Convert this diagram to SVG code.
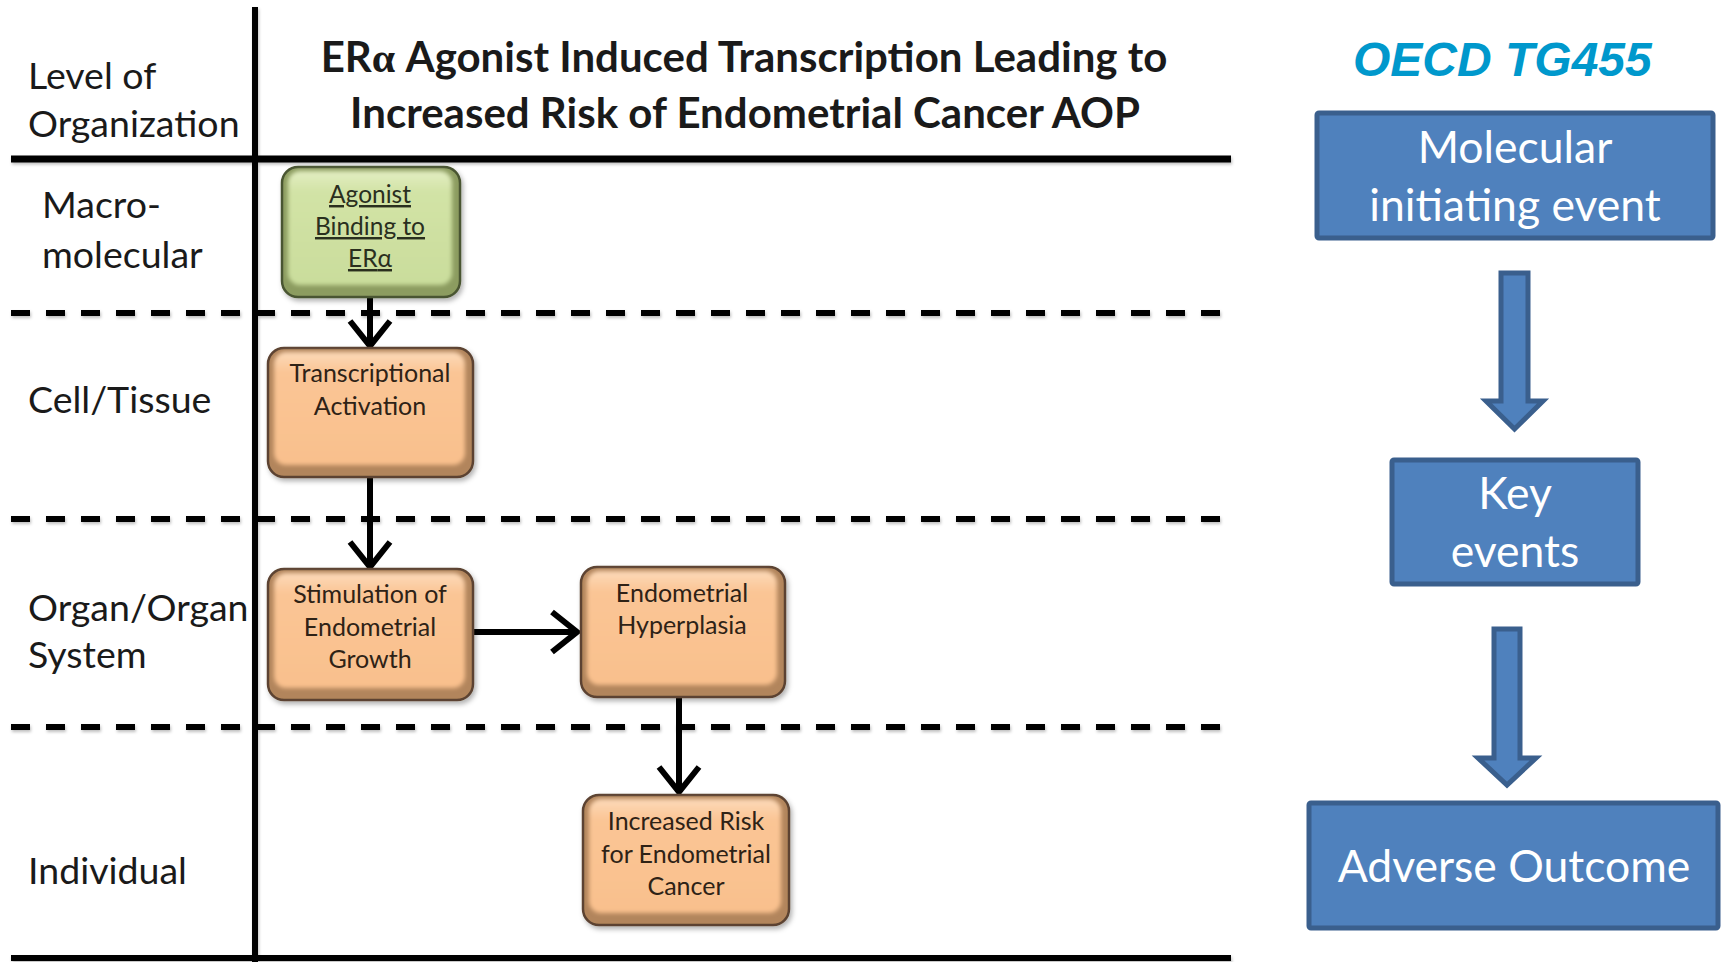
<svg xmlns="http://www.w3.org/2000/svg" width="1721" height="962" viewBox="0 0 1721 962">
<style>
.lab{font-family:Lato,"Open Sans","Liberation Sans",sans-serif;font-size:37.5px;fill:#1a1a1a}
.ttl{font-family:Lato,"Open Sans","Liberation Sans",sans-serif;font-weight:bold;font-size:42px;fill:#1a1a1a;text-anchor:middle}
.nt{font-family:Lato,"Open Sans","Liberation Sans",sans-serif;font-size:25px;fill:#2e2216;text-anchor:middle}
.gt{font-family:Lato,"Open Sans","Liberation Sans",sans-serif;font-size:24.5px;fill:#2a2f1e;text-anchor:middle;text-decoration:underline}
.bt{font-family:Lato,"Open Sans","Liberation Sans",sans-serif;font-size:44.5px;fill:#ffffff;text-anchor:middle}
.oecd{font-family:"Liberation Sans",Arial,sans-serif;font-weight:bold;font-style:italic;font-size:48px;fill:#0098CC}
.solid{stroke:#000;fill:none}
.dash{stroke:#000;stroke-width:6;stroke-dasharray:19 16;fill:none}
.oo{fill:#B2855B;stroke:#5B4330;stroke-width:2.5}
.oi{fill:url(#og)}
.go{fill:#8C9C60;stroke:#4A5530;stroke-width:2.5}
.gi{fill:url(#gg)}
.conn{stroke:#000;stroke-width:6;fill:none;marker-end:url(#chev)}
.bb{fill:#4F81BD;stroke:#3A5F8D;stroke-width:5}
</style>
<defs>
<linearGradient id="og" x1="0" y1="0" x2="0" y2="1">
<stop offset="0" stop-color="#FDDAB9"/><stop offset="0.18" stop-color="#FAC595"/><stop offset="1" stop-color="#F9C08D"/>
</linearGradient>
<linearGradient id="gg" x1="0" y1="0" x2="0" y2="1">
<stop offset="0" stop-color="#E3EEC3"/><stop offset="0.18" stop-color="#D2E3A6"/><stop offset="1" stop-color="#CADD9C"/>
</linearGradient>
<filter id="sh" x="-10%" y="-10%" width="130%" height="130%">
<feDropShadow dx="2" dy="3" stdDeviation="2.5" flood-color="#000" flood-opacity="0.3"/>
</filter>
<filter id="bl" x="-10%" y="-10%" width="120%" height="120%">
<feGaussianBlur stdDeviation="2"/>
</filter>
<filter id="lsh" x="-5%" y="-50%" width="110%" height="200%">
<feDropShadow dx="1" dy="2" stdDeviation="1.5" flood-color="#000" flood-opacity="0.25"/>
</filter>
<marker id="chev" markerUnits="userSpaceOnUse" viewBox="-30 -25 36 50" refX="0" refY="0" markerWidth="36" markerHeight="50" orient="auto">
<path d="M-25,-20 L0,0 L-25,20" fill="none" stroke="#000" stroke-width="6" stroke-linejoin="miter"/>
</marker>
</defs>
<rect width="1721" height="962" fill="#fff"/>

<g id="grid" filter="url(#lsh)">
<line class="solid" x1="255" y1="7" x2="255" y2="962" stroke-width="6"/>
<line class="solid" x1="11" y1="159" x2="1231" y2="159" stroke-width="7"/>
<line class="solid" x1="11" y1="958" x2="1231" y2="958" stroke-width="6"/>
<line class="dash" x1="11" y1="313" x2="1231" y2="313"/>
<line class="dash" x1="11" y1="519" x2="1231" y2="519"/>
<line class="dash" x1="11" y1="727" x2="1231" y2="727"/>
</g>

<g id="labels">
<text class="lab" x="28" y="89">Level of</text>
<text class="lab" x="28" y="137">Organization</text>
<text class="lab" x="42" y="218">Macro-</text>
<text class="lab" x="42" y="268">molecular</text>
<text class="lab" x="28" y="413">Cell/Tissue</text>
<text class="lab" x="28" y="621">Organ/Organ</text>
<text class="lab" x="28" y="668">System</text>
<text class="lab" x="28" y="884">Individual</text>
</g>

<g id="title">
<text class="ttl" x="744" y="72">ER<tspan font-family="'Liberation Serif',serif">α</tspan> Agonist Induced Transcription Leading to</text>
<text class="ttl" x="745" y="128">Increased Risk of Endometrial Cancer AOP</text>
</g>

<g id="connectors">
<line class="conn" x1="370" y1="297" x2="370" y2="346"/>
<line class="conn" x1="370" y1="477" x2="370" y2="567"/>
<line class="conn" x1="473" y1="632" x2="577" y2="632"/>
<line class="conn" x1="679" y1="697" x2="679" y2="792"/>
</g>

<g id="n1">
<rect class="go" x="282" y="167" width="178" height="130" rx="16" filter="url(#sh)"/>
<rect class="gi" x="288" y="171" width="164" height="114" rx="12" filter="url(#bl)"/>
<text class="gt" x="370" y="203">Agonist</text>
<text class="gt" x="370" y="235">Binding to</text>
<text class="gt" x="370" y="267">ER<tspan>α</tspan></text>
</g>

<g id="n2">
<rect class="oo" x="268" y="348" width="205" height="129" rx="16" filter="url(#sh)"/>
<rect class="oi" x="274" y="352" width="191" height="113" rx="12" filter="url(#bl)"/>
<text class="nt" x="370" y="382">Transcriptional</text>
<text class="nt" x="370" y="415">Activation</text>
</g>

<g id="n3">
<rect class="oo" x="268" y="569" width="205" height="131" rx="16" filter="url(#sh)"/>
<rect class="oi" x="274" y="573" width="191" height="115" rx="12" filter="url(#bl)"/>
<text class="nt" x="370" y="603">Stimulation of</text>
<text class="nt" x="370" y="636">Endometrial</text>
<text class="nt" x="370" y="668">Growth</text>
</g>

<g id="n4">
<rect class="oo" x="581" y="567" width="204" height="130" rx="16" filter="url(#sh)"/>
<rect class="oi" x="587" y="571" width="190" height="114" rx="12" filter="url(#bl)"/>
<text class="nt" x="682" y="602">Endometrial</text>
<text class="nt" x="682" y="634">Hyperplasia</text>
</g>

<g id="n5">
<rect class="oo" x="583" y="795" width="206" height="130" rx="16" filter="url(#sh)"/>
<rect class="oi" x="589" y="799" width="192" height="114" rx="12" filter="url(#bl)"/>
<text class="nt" x="686" y="830">Increased Risk</text>
<text class="nt" x="686" y="863">for Endometrial</text>
<text class="nt" x="686" y="895">Cancer</text>
</g>

<g id="oecd">
<text class="oecd" x="1353" y="76">OECD TG455</text>
</g>

<g id="mie">
<rect class="bb" x="1317" y="113" width="396" height="125" rx="2"/>
<text class="bt" x="1515" y="163">Molecular</text>
<text class="bt" x="1515" y="221">initiating event</text>
</g>

<g id="ke">
<rect class="bb" x="1392" y="460" width="246" height="124" rx="2"/>
<text class="bt" x="1515" y="509">Key</text>
<text class="bt" x="1515" y="567">events</text>
</g>

<g id="ao">
<rect class="bb" x="1309" y="803" width="409" height="125" rx="2"/>
<text class="bt" x="1514" y="882">Adverse Outcome</text>
</g>

<g id="block-arrows">
<path class="bb" stroke-width="4" d="M1501,273 H1528 V401 H1543 L1514.5,429 L1486,401 H1501 Z"/>
<path class="bb" stroke-width="4" d="M1494,629 H1520 V758 H1536 L1507,785 L1478,758 H1494 Z"/>
</g>
</svg>
